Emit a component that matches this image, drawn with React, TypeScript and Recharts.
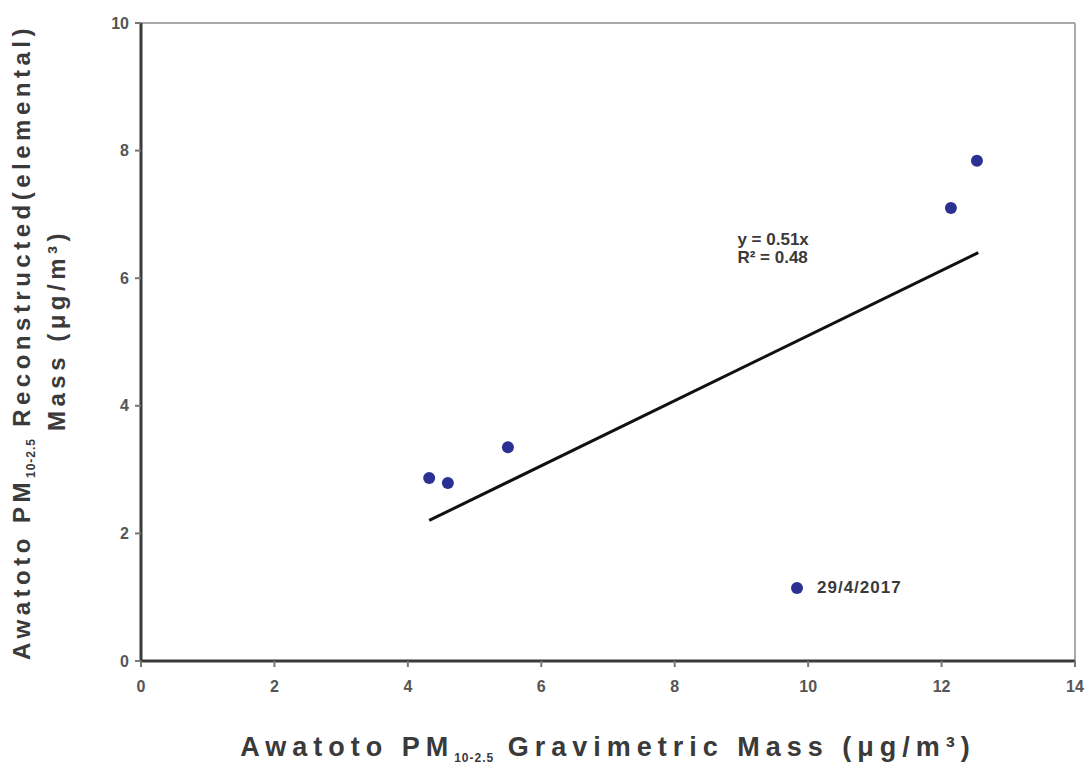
import React from 'react';
import {
  ScatterChart,
  Scatter,
  XAxis,
  YAxis,
  ReferenceLine,
  ReferenceDot,
  Legend,
  Label
} from 'recharts';

// Values
const gravimetric = [4.32, 4.6, 5.5, 12.14, 12.53];
const reconstructed = [2.87, 2.79, 3.35, 7.1, 7.84];
const xTicks = [0, 2, 4, 6, 8, 10, 12, 14];
const yTicks = [0, 2, 4, 6, 8, 10];
const seriesName = '29/4/2017';
const trendSlope = 0.51;
const trendRSquared = 0.48;
const trendRange = [4.32, 12.55];

const points = gravimetric.map((x, i) => ({ x, y: reconstructed[i] }));

const FONT = '"Liberation Sans", Arial, sans-serif';
const TEXT = '#3a3a3a';
const DOT = '#2b3192';

const renderDot = (props: any) => (
  <circle cx={props.cx} cy={props.cy} r={6} fill={DOT} />
);

const renderXLabel = (props: any) => {
  const vb = props.viewBox;
  return (
    <text
      x={vb.x + vb.width / 2}
      y={vb.y + 95}
      textAnchor="middle"
      fontFamily={FONT}
      fontSize={27}
      fontWeight="bold"
      letterSpacing={6}
      fill={TEXT}
    >
      Awatoto PM
      <tspan fontSize={12} dy={6} letterSpacing={1}>10-2.5</tspan>
      <tspan dy={-6}> Gravimetric Mass (μg/m³)</tspan>
    </text>
  );
};

const renderYLabel = (props: any) => {
  const vb = props.viewBox;
  const cy = vb.y + vb.height / 2;
  return (
    <g fontFamily={FONT} fontSize={24} fontWeight="bold" fill={TEXT} letterSpacing={4.5}>
      <text x={22} y={cy} textAnchor="middle" transform={`rotate(-90, 22, ${cy})`} dy={8}>
        Awatoto PM
        <tspan fontSize={12} dy={5} letterSpacing={1}>10-2.5</tspan>
        <tspan dy={-5}> Reconstructed(elemental)</tspan>
      </text>
      <text x={57} y={cy - 12} textAnchor="middle" transform={`rotate(-90, 57, ${cy - 12})`} dy={8}>
        Mass (μg/m³)
      </text>
    </g>
  );
};

const renderEquation = (props: any) => {
  const vb = props.viewBox;
  return (
    <text x={vb.x} y={vb.y} fontFamily={FONT} fontSize={17} fontWeight="bold" fill={TEXT}>
      <tspan x={vb.x} dy={0}>{`y = ${trendSlope}x`}</tspan>
      <tspan x={vb.x} dy={18}>{`R² = ${trendRSquared}`}</tspan>
    </text>
  );
};

const renderLegend = () => (
  <div
    style={{
      display: 'flex',
      alignItems: 'center',
      fontFamily: FONT,
      fontSize: 17,
      fontWeight: 'bold',
      letterSpacing: 1,
      color: TEXT
    }}
  >
    <svg width={12} height={12}>
      <circle cx={6} cy={6} r={6} fill={DOT} />
    </svg>
    <span style={{ marginLeft: 14 }}>{seriesName}</span>
  </div>
);

export default function App() {
  const tickStyle = { fontSize: 16, fill: '#555', fontFamily: FONT, fontWeight: 'bold' as const };
  return (
    <div style={{ position: 'absolute', left: 0, top: 0, background: '#fff' }}>
      <ScatterChart
        width={1088}
        height={767}
        margin={{ top: 23, right: 13, bottom: 20, left: 0 }}
      >
        <XAxis
          type="number"
          dataKey="x"
          domain={[0, 14]}
          ticks={xTicks}
          height={86}
          axisLine={{ stroke: '#3a3a3a', strokeWidth: 3 }}
          tickLine={{ stroke: '#777', strokeWidth: 2 }}
          tickSize={6}
          tickMargin={14}
          tick={tickStyle}
        >
          <Label content={renderXLabel} />
        </XAxis>
        <YAxis
          type="number"
          dataKey="y"
          domain={[0, 10]}
          ticks={yTicks}
          width={141}
          axisLine={{ stroke: '#3a3a3a', strokeWidth: 3 }}
          tickLine={{ stroke: '#777', strokeWidth: 2 }}
          tickSize={6}
          tickMargin={6}
          tick={tickStyle}
        >
          <Label content={renderYLabel} />
        </YAxis>
        <ReferenceLine y={10} stroke="#aaa" strokeWidth={2} />
        <ReferenceLine x={14} stroke="#aaa" strokeWidth={2} />
        <ReferenceLine
          segment={[
            { x: trendRange[0], y: trendSlope * trendRange[0] },
            { x: trendRange[1], y: trendSlope * trendRange[1] }
          ]}
          stroke="#111"
          strokeWidth={3}
        />
        <ReferenceDot x={8.94} y={6.52} r={0} stroke="none" fill="none" label={renderEquation} />
        <Scatter
          name={seriesName}
          data={points}
          shape={renderDot}
          isAnimationActive={false}
        />
        <Legend
          layout="vertical"
          align="center"
          verticalAlign="middle"
          content={renderLegend}
          wrapperStyle={{ left: 791, top: 578, width: 'auto' }}
        />
      </ScatterChart>
    </div>
  );
}
